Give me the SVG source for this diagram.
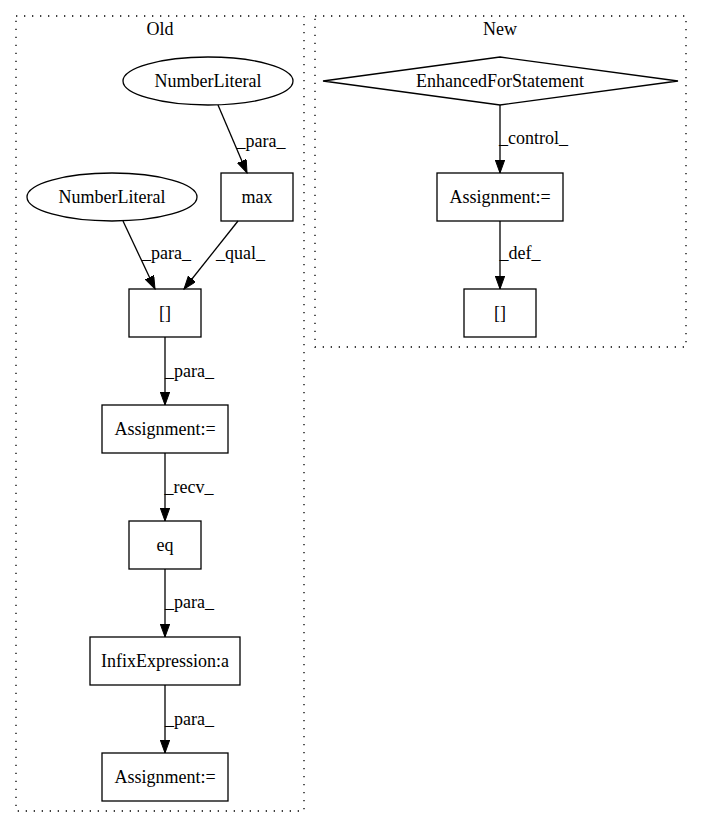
<svg xmlns="http://www.w3.org/2000/svg" width="701" height="828" viewBox="0 0 701 828">
<style>
  text { font-family: "Liberation Serif", "Times New Roman", serif; font-size: 18px; fill: #000; }
  .c { text-anchor: middle; }
  .node { fill: none; stroke: #000; stroke-width: 1.3; }
  .cluster { fill: none; stroke: #000; stroke-width: 1.3; stroke-dasharray: 1.3,6.7; }
  .edge { fill: none; stroke: #000; stroke-width: 1.3; marker-end: url(#arrow); }
</style>
<defs>
  <marker id="arrow" markerUnits="userSpaceOnUse" markerWidth="14" markerHeight="10" refX="13" refY="4.7" orient="auto">
    <path d="M0,0 L13,4.7 L0,9.4 Z" fill="#000" stroke="#000" stroke-width="1"/>
  </marker>
</defs>
<rect width="701" height="828" fill="#fff"/>
<g id="cluster_old">
  <rect class="cluster" x="16" y="16" width="288" height="795"/>
  <text class="c" x="160" y="35">Old</text>
</g>
<g id="cluster_new">
  <rect class="cluster" x="315" y="16" width="371" height="331"/>
  <text class="c" x="500" y="35">New</text>
</g>
<g id="connectors">
  <path class="edge" d="M218,105 L247,173"/>
  <text class="c" x="261" y="147">_para_</text>
  <path class="edge" d="M123,221 L155,289"/>
  <text class="c" x="166.5" y="259">_para_</text>
  <path class="edge" d="M238,221 L184,289"/>
  <text class="c" x="240.5" y="259">_qual_</text>
  <path class="edge" d="M165,337 L165,405"/>
  <text class="c" x="189.5" y="377">_para_</text>
  <path class="edge" d="M165,453 L165,521"/>
  <text class="c" x="189" y="493">_recv_</text>
  <path class="edge" d="M165,569 L165,637"/>
  <text class="c" x="189.5" y="608">_para_</text>
  <path class="edge" d="M165,685 L165,753"/>
  <text class="c" x="189.5" y="725">_para_</text>
  <path class="edge" d="M500,105 L500,173"/>
  <text class="c" x="533.5" y="144">_control_</text>
  <path class="edge" d="M500,221 L500,289"/>
  <text class="c" x="520" y="259">_def_</text>
</g>
<g id="n_numlit1">
  <ellipse class="node" cx="208" cy="81" rx="85" ry="24"/>
  <text class="c" x="208" y="87">NumberLiteral</text>
</g>
<g id="n_max">
  <rect class="node" x="221" y="173" width="72" height="48"/>
  <text class="c" x="257" y="203">max</text>
</g>
<g id="n_numlit2">
  <ellipse class="node" cx="112" cy="197" rx="85" ry="24"/>
  <text class="c" x="112" y="203">NumberLiteral</text>
</g>
<g id="n_index_old">
  <rect class="node" x="129" y="289" width="72" height="48"/>
  <text class="c" x="165" y="319">[]</text>
</g>
<g id="n_assign1">
  <rect class="node" x="102" y="405" width="126" height="48"/>
  <text class="c" x="165" y="435">Assignment:=</text>
</g>
<g id="n_eq">
  <rect class="node" x="129" y="521" width="72" height="48"/>
  <text class="c" x="165" y="551">eq</text>
</g>
<g id="n_infix">
  <rect class="node" x="90" y="637" width="150" height="48"/>
  <text class="c" x="165" y="667">InfixExpression:a</text>
</g>
<g id="n_assign2">
  <rect class="node" x="102" y="753" width="126" height="48"/>
  <text class="c" x="165" y="783">Assignment:=</text>
</g>
<g id="n_efor">
  <polygon class="node" points="500,57 678,81 500,105 323,81"/>
  <text class="c" x="500" y="87">EnhancedForStatement</text>
</g>
<g id="n_assign_new">
  <rect class="node" x="437" y="173" width="126" height="48"/>
  <text class="c" x="500" y="203">Assignment:=</text>
</g>
<g id="n_index_new">
  <rect class="node" x="464" y="289" width="72" height="48"/>
  <text class="c" x="500" y="319">[]</text>
</g>
</svg>
